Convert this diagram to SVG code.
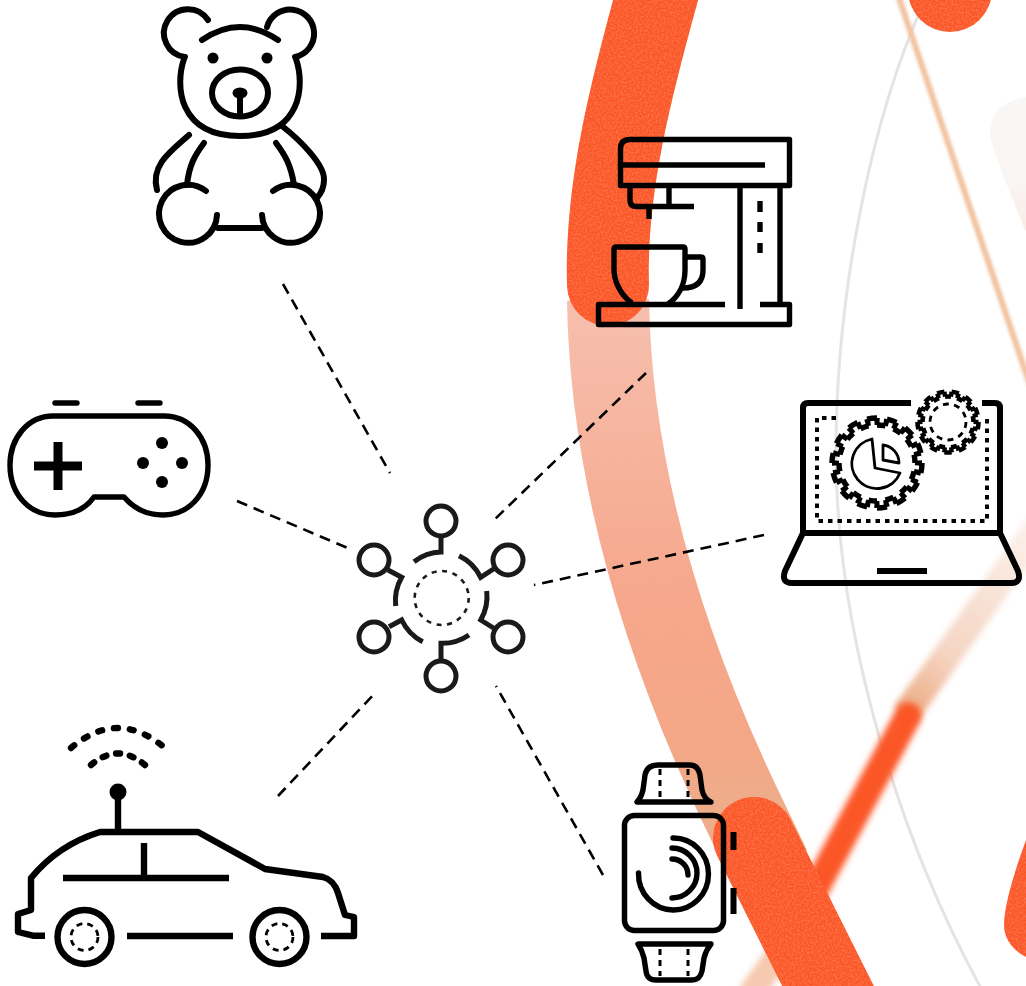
<svg xmlns="http://www.w3.org/2000/svg" width="1026" height="986" viewBox="0 0 1026 986">
<style>
.i{fill:none;stroke:#000;stroke-width:5.4;stroke-linecap:butt;stroke-linejoin:round}
.r{stroke-linecap:round}
.f{fill:#000;stroke:none}
.c{fill:none;stroke:#000;stroke-width:2.6;stroke-dasharray:11 7}
.h{fill:none;stroke:#1a1a1a;stroke-width:5}
.o{fill:none;stroke:#fb5625;stroke-width:82}
</style>
<defs>
<filter id="grain" filterUnits="userSpaceOnUse" x="0" y="0" width="1026" height="986">
<feTurbulence type="fractalNoise" baseFrequency="0.5" numOctaves="2" seed="3" result="n"/>
<feColorMatrix in="n" type="matrix" values="0 0 0 0 1  0 0 0 0 0.5  0 0 0 0 0.3  0 0 0 0.5 -0.2" result="m"/>
<feComposite in="m" in2="SourceAlpha" operator="in" result="g"/>
<feMerge><feMergeNode in="SourceGraphic"/><feMergeNode in="g"/></feMerge>
</filter>
<filter id="b1" filterUnits="userSpaceOnUse" x="0" y="0" width="1026" height="986"><feGaussianBlur stdDeviation="1.4"/></filter>
<filter id="b2" filterUnits="userSpaceOnUse" x="0" y="0" width="1026" height="986"><feGaussianBlur stdDeviation="3"/></filter>
<linearGradient id="pale" gradientUnits="userSpaceOnUse" x1="0" y1="300" x2="0" y2="800">
<stop offset="0" stop-color="#f6c0b0"/><stop offset=".6" stop-color="#f6a68c"/><stop offset=".9" stop-color="#f3a686"/><stop offset="1" stop-color="#eeab8a"/>
</linearGradient>
<linearGradient id="ghost" gradientUnits="userSpaceOnUse" x1="0" y1="100" x2="0" y2="240">
<stop offset="0" stop-color="#f8f7f6"/><stop offset=".6" stop-color="#f9f5f3"/><stop offset="1" stop-color="#f9e9e2"/>
</linearGradient>
<linearGradient id="streak" gradientUnits="userSpaceOnUse" x1="910" y1="700" x2="1026" y2="540">
<stop offset="0" stop-color="#eeb28e"/><stop offset=".3" stop-color="#f5d5c3"/><stop offset="1" stop-color="#fbeee7"/>
</linearGradient>
</defs>
<rect width="1026" height="986" fill="#fff"/>
<g id="background">
<path d="M1026,97 Q990,103 990,135 Q992,150 1026,232 Z" fill="url(#ghost)"/>
<path d="M925,0 C870,120 835,300 836,460 C838,640 900,840 982,990" fill="none" stroke="#e4e4e4" stroke-width="3"/>
<path d="M898,-5 L1030,385" fill="none" stroke="#f2c3a0" stroke-width="6" filter="url(#b1)"/>
<path d="M905,715 L1040,525" fill="none" stroke="url(#streak)" stroke-width="28" filter="url(#b2)"/>
<path d="M908,716 L815,890" fill="none" stroke="#fb5625" stroke-width="27" stroke-linecap="round" filter="url(#b2)"/>
<path d="M800,925 L750,995" fill="none" stroke="#f6c9b0" stroke-width="26" filter="url(#b2)"/>
<g filter="url(#grain)">
<path d="M608,300 C610,430 640,600 747,820 L770,868" fill="none" stroke="url(#pale)" stroke-width="82"/>
<path class="o" stroke-linecap="round" d="M664,-30 C630,90 605,190 608,285"/>
<path class="o" stroke-linecap="round" d="M754,838 L838,1006"/>
<circle cx="950" cy="-10" r="42" fill="#fb5625"/>
<path d="M1026,840 C1015,870 1004,905 1004,925 C1004,940 1015,952 1026,957 Z" fill="#fb5625"/>
</g>
</g>
<g id="connectors">
<path class="c" d="M283,284 L390,473"/>
<path class="c" d="M237,501 L350,549"/>
<path class="c" d="M278,796 L376,692"/>
<path class="c" d="M603,875 L496,686"/>
<path class="c" d="M764,535 L534,585"/>
<path class="c" d="M646,373 L493,521"/>
</g>
<g id="teddy" class="i r" style="stroke-width:6">
<path d="M202,40 Q240,14 278,40"/>
<path d="M208,20 A24,24 0 1 0 185,57"/>
<path d="M267,27 A24,24 0 1 1 295,57"/>
<path d="M184,59 C175,85 178,136 240,136 C302,136 305,85 296,59"/>
<circle class="f" cx="213" cy="58" r="5.500"/>
<circle class="f" cx="267" cy="58" r="5.500"/>
<ellipse cx="240" cy="93" rx="28" ry="23.500"/>
<ellipse class="f" cx="240" cy="93" rx="7.500" ry="5.500"/>
<path d="M240,93 V115"/>
<path d="M189,135 C172,150 150,165 157,190"/>
<path d="M204,143 C195,155 189,165 187,185"/>
<path d="M276,143 C285,155 291,165 294,185"/>
<path d="M282,126 C300,140 325,165 324,180 Q324,190 317,198"/>
<path d="M206,191 A29,29 0 1 0 217,215"/>
<path d="M273,191 A29,29 0 1 1 262,215"/>
<path d="M218,228 H262"/>
</g>
<g id="gamepad" class="i">
<path class="r" d="M55,403 H77 M138,403 H160"/>
<path d="M53,416 H164 C190,416 208,438 208,465 C208,495 188,515 163,515 C148,515 135,510 124,497 H94 C85,510 70,515 55,515 C30,515 10,495 10,465 C10,438 28,416 53,416 Z"/>
<path style="stroke-width:9" d="M58,442 V490 M34,466 H82"/>
<circle class="f" cx="162" cy="443" r="6"/>
<circle class="f" cx="143" cy="463" r="6"/>
<circle class="f" cx="182" cy="463" r="6"/>
<circle class="f" cx="162" cy="482" r="6"/>
</g>
<g id="hub" class="h">
<circle cx="441" cy="521" r="15"/>
<circle cx="508" cy="560" r="15"/>
<circle cx="508" cy="637" r="15"/>
<circle cx="441" cy="676" r="15"/>
<circle cx="374" cy="560" r="15"/>
<circle cx="374" cy="637" r="15"/>
<circle cx="441.700" cy="598" r="27" style="stroke-width:2.600;stroke-dasharray:5 5.600"/>
<path d="M414,561.700 A47,47 0 0 1 441,552 V537"/>
<path d="M459,555.700 A47,47 0 0 1 480.700,577.300 L495,568"/>
<path d="M486.700,591 A47,47 0 0 1 480.700,620 L496.700,630"/>
<path d="M469,635 A47,47 0 0 1 441,643.300 V661"/>
<path d="M422.700,641.700 A47,47 0 0 1 401.700,620 L389,626.700"/>
<path d="M395.700,606 A47,47 0 0 1 401.700,577.300 L388,570"/>
</g>
<g id="coffee-machine" class="i">
<path d="M620.500,185.500 V149 Q620.500,139.500 630,139.500 H789.500 V185.500 Z"/>
<path d="M620,165 H765"/>
<path d="M630,186 V200 Q630,206.500 636,206.500 H694"/>
<path d="M669,186 V206 M649,207 V219"/>
<path d="M740,186 V309 M780,186 V305"/>
<path d="M760,201 V212 M760,222 V232 M760,243 V253"/>
<path d="M725,304.500 H598.500 V324.500 H789.500 V304.500 H760"/>
<path d="M632,303 C620,295 614,280 614,270 V249 Q614,247 616,247 H683 Q685,247 685,249 V270 C685,285 678,297 668,304"/>
<path d="M686,257 H701 Q703,257 703,259 V270 Q703,288 683,288"/>
</g>
<g id="laptop" class="i">
<path style="stroke-width:6" d="M911,403 H808 Q803,403 803,408 V533 M982,403 H995 Q1000,403 1000,408 V533 M803,533 H1000 L1018,571 Q1022,583 1011,583 H792 Q781,583 785,571 L803,533"/>
<path style="stroke-width:6" d="M877,571 H927"/>
<path style="stroke-width:4;stroke-dasharray:4.500 5" d="M836,418 H817 V521 H987 V417"/>
<circle cx="877" cy="463" r="45" pathLength="140" stroke-dasharray="5 5"/>
<circle cx="877" cy="463" r="38" pathLength="140" stroke-dasharray="5 5" stroke-dashoffset="5"/>
<circle cx="877" cy="463" r="41.500" pathLength="140" stroke-dasharray="2.800 2.200" stroke-dashoffset="1.400" style="stroke-width:7"/>
<circle cx="948" cy="422" r="30.500" pathLength="130" stroke-dasharray="5 5" style="stroke-width:4.600"/>
<circle cx="948" cy="422" r="25.500" pathLength="130" stroke-dasharray="5 5" stroke-dashoffset="5" style="stroke-width:4.600"/>
<circle cx="948" cy="422" r="28" pathLength="130" stroke-dasharray="3.200 1.800" stroke-dashoffset="1.600" style="stroke-width:5"/>
<circle cx="948" cy="422" r="18" style="stroke-width:2.800;stroke-dasharray:6 5.300"/>
<path style="stroke-width:2.800" d="M875,468 L872,439 A25,25 0 1 0 900,473 Z"/>
<path style="stroke-width:2.800" d="M883,445 V460 L899,463 A18,18 0 0 0 883,445 Z"/>
</g>
<g id="car" class="i" style="stroke-width:6.400">
<path d="M45,935.700 H33 L18,932 V914 L31,910 V878 Q58,845 100,832 H198 L265,869 L323,877 Q334,880 338,893 L345,915 L354,917 V936 H321"/>
<path d="M127,936 H233 M63,878 H229 M144,843 V878 M118,832 V795"/>
<circle class="f" cx="118" cy="792" r="8.500"/>
<circle cx="84.500" cy="937" r="27"/>
<circle cx="279.500" cy="937" r="27"/>
<circle cx="84.500" cy="937" r="13.500" style="stroke-width:2.800;stroke-dasharray:6 5"/>
<circle cx="279.500" cy="937" r="13.500" style="stroke-width:2.800;stroke-dasharray:6 5"/>
<path class="r" style="stroke-width:6.400;stroke-dasharray:4 12" d="M71,748 Q118,708 165,748"/>
<path class="r" style="stroke-width:6.400;stroke-dasharray:4 10" d="M91,765 Q118,742 145,765"/>
</g>
<g id="watch" class="i">
<path d="M637,802 H711 Q704,799 702,790 L700,775 Q698,765 690,765 H658 Q647,765 645,775 L643,790 Q641,798 637,802 Z"/>
<path style="stroke-width:3;stroke-dasharray:6 5" d="M660,769 V797 M688,769 V797"/>
<rect x="624.500" y="815.500" width="99" height="115" rx="10" style="stroke-width:5.500"/>
<rect class="f" x="730.500" y="832" width="6" height="18"/>
<rect class="f" x="730.500" y="888" width="6" height="26"/>
<path d="M638,944 H711 Q706,950 704,958 L702,971 Q700,980 692,980 H656 Q647,980 646,971 L644,958 Q642,950 638,944 Z"/>
<path style="stroke-width:3;stroke-dasharray:6 5" d="M660,949 V976 M688,949 V976"/>
<path class="r" d="M638.500,873 A35,36 0 1 0 673,838"/>
<path class="r" d="M672,848 A25,25 0 0 1 672,898"/>
<path class="r" d="M672,859 A16,16 0 0 1 688,875"/>
</g>
</svg>
